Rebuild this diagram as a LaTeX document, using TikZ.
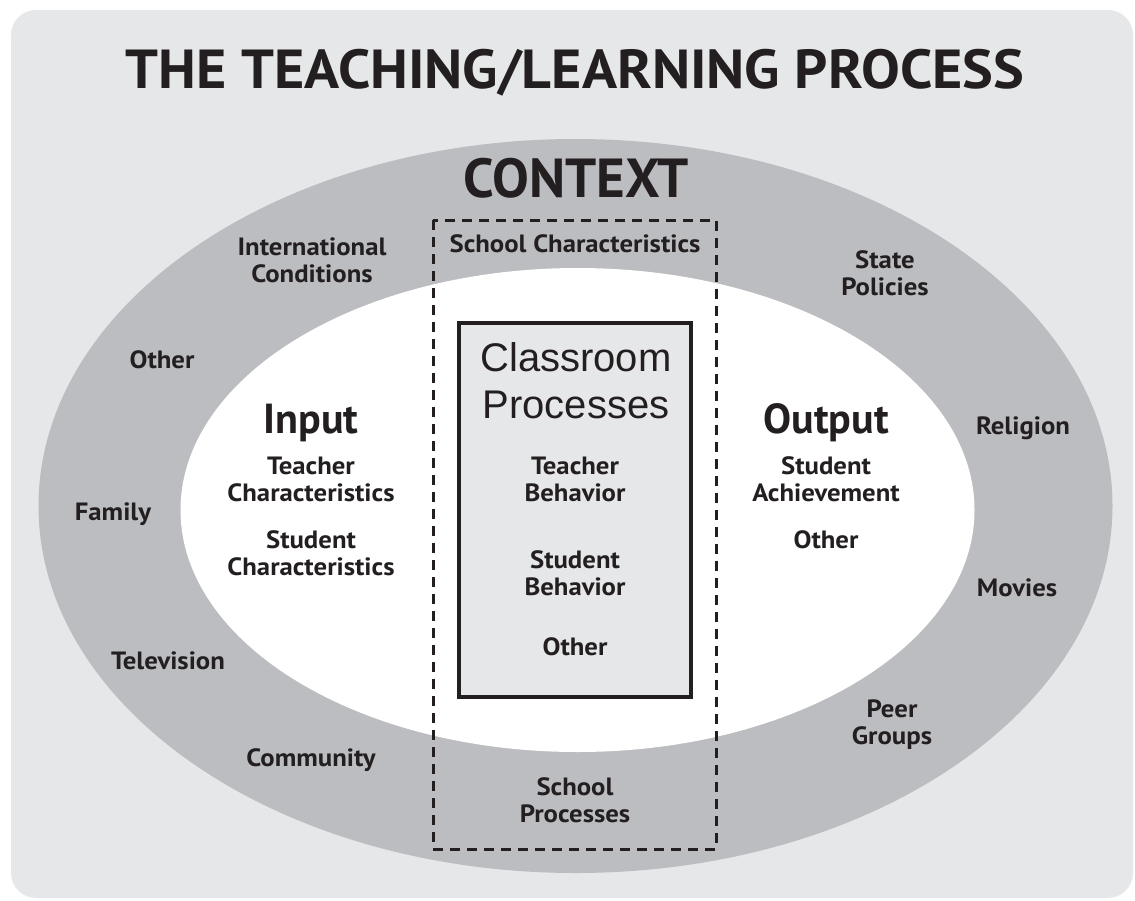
\documentclass[tikz,border=0pt]{standalone}
\usepackage{fontspec}
\setmainfont{PT Sans}
\newfontfamily\widesf[FakeStretch=1.07]{PT Sans}
\newfontfamily\titlesf[FakeStretch=1.055]{PT Sans}
\newfontfamily\helv{Liberation Sans}
\definecolor{bgc}{HTML}{E6E7E9}
\definecolor{ringc}{HTML}{BCBDC0}
\definecolor{inkc}{HTML}{231F20}
\begin{document}
\begin{tikzpicture}[x=1pt,y=-1pt,
  txt/.style={font=\widesf\bfseries\fontsize{25}{27}\selectfont, text=inkc, align=center, inner sep=0pt},
  head/.style={font=\bfseries\fontsize{42}{44}\selectfont, text=inkc, inner sep=0pt},
  big/.style={font=\bfseries\fontsize{55}{58}\selectfont, text=inkc, inner sep=0pt}]
\useasboundingbox (0,0) rectangle (1135,900);
\fill[white] (0,0) rectangle (1135,900);
\fill[bgc, rounded corners=25pt] (11,10) rectangle (1133,898);
\fill[ringc] (575.5,506) ellipse [x radius=537, y radius=367];
\fill[white] (577.5,510) ellipse [x radius=397, y radius=242];
\draw[inkc, line width=3pt, dash pattern=on 10pt off 7pt] (433,220) rectangle (716,849);
\node[draw=inkc, line width=3.5pt, fill=bgc, minimum width=232pt, minimum height=374pt, inner sep=0pt] (cls) at (575,510) {};

\node[big, font=\titlesf\bfseries\fontsize{55}{58}\selectfont] (title) at (575,73) {THE TEACHING/LEARNING PROCESS};
\node[big] (ctx) at (576,178) {CONTEXT};
\node[txt] (schc) at (575,244) {School Characteristics};
\node[txt] (intl) at (312,260) {International\\Conditions};
\node[txt] (oth1) at (162,360) {Other};
\node[txt] (fam) at (113,514) {Family};
\node[txt] (tv) at (168,661) {Television};
\node[txt] (com) at (311,760) {Community};
\node[txt] (state) at (885,273) {State\\Policies};
\node[txt] (rel) at (1023,428) {Religion};
\node[txt] (mov) at (1017,588) {Movies};
\node[txt] (peer) at (892,725) {Peer\\Groups};
\node[txt] (schp) at (575,800) {School\\Processes};

\node[head] (inp) at (311,423) {Input};
\node[txt] (tch) at (311,479) {Teacher\\Characteristics};
\node[txt] (stc) at (311,553) {Student\\Characteristics};

\node[head] (outp) at (826,423) {Output};
\node[txt] (ach) at (826,479) {Student\\Achievement};
\node[txt] (oth3) at (826,540) {Other};

\node[font=\helv\fontsize{40}{47}\selectfont, text=inkc, align=center, inner sep=0pt] (clsp) at (576,381) {Classroom\\Processes};
\node[txt] (tb) at (575,479) {Teacher\\Behavior};
\node[txt] (sb) at (575,573) {Student\\Behavior};
\node[txt] (oth2) at (575,647) {Other};
\end{tikzpicture}
\end{document}
